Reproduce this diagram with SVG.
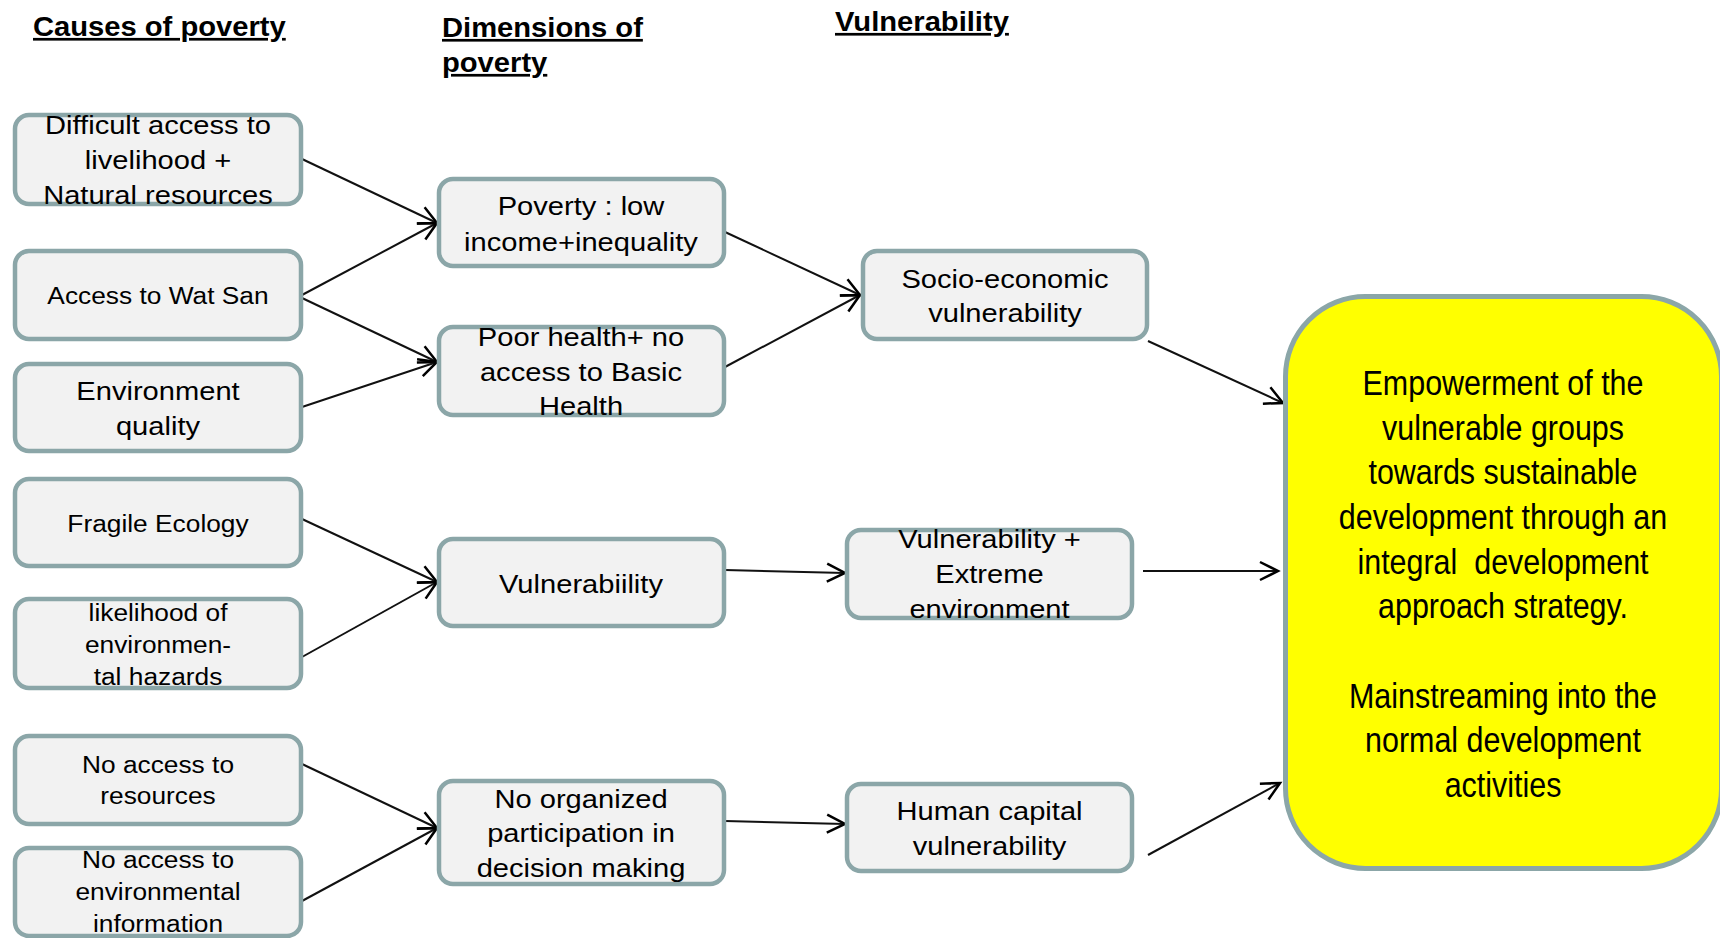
<svg xmlns="http://www.w3.org/2000/svg" width="1720" height="938" viewBox="0 0 1720 938">
  <style>
    .box { fill: #F2F2F2; stroke: #8BA6A8; stroke-width: 4.5; }
    .goal { fill: #FFFF00; stroke: #8BA6A8; stroke-width: 5; }
    .t { font-family: "Liberation Sans", Arial, sans-serif; font-size: 26px; fill: #000; text-anchor: middle; }
    .s { font-size: 23.5px; }
    .g { font-size: 35px; }
    .h { font-family: "Liberation Sans", Arial, sans-serif; font-size: 27px; font-weight: bold; fill: #000; text-decoration: underline; text-decoration-thickness: 3px; text-underline-offset: 4px; }
    .link { fill: none; stroke: #111; stroke-width: 2; marker-end: url(#arrow); }
  </style>
  <defs>
    <marker id="arrow" markerUnits="userSpaceOnUse" viewBox="0 0 24 24" markerWidth="24" markerHeight="24" refX="21" refY="12" orient="auto">
      <path d="M3,3 L21,12 L3,21" fill="none" stroke="#000" stroke-width="2.5"/>
    </marker>
  </defs>

  <rect width="1720" height="938" fill="#FFFFFF"/>

  <!-- column headings -->
  <g id="headings">
    <text class="h" transform="translate(33 0) scale(1.08 1)" x="0" y="36">Causes of poverty</text>
    <text class="h" transform="translate(442 0) scale(1.08 1)" x="0" y="37">Dimensions of</text>
    <text class="h" transform="translate(442 0) scale(1.08 1)" x="0" y="72">poverty</text>
    <text class="h" transform="translate(835 0) scale(1.08 1)" x="0" y="31">Vulnerability</text>
  </g>

  <!-- connectors -->
  <g id="connectors">
    <line class="link" x1="302" y1="159" x2="437" y2="223"/>
    <line class="link" x1="302" y1="295" x2="437" y2="223"/>
    <line class="link" x1="302" y1="298" x2="437" y2="362"/>
    <line class="link" x1="302" y1="407" x2="437" y2="362"/>
    <line class="link" x1="302" y1="519" x2="437" y2="582"/>
    <line class="link" x1="302" y1="657" x2="437" y2="582"/>
    <line class="link" x1="302" y1="764" x2="437" y2="828"/>
    <line class="link" x1="302" y1="901" x2="437" y2="828"/>
    <line class="link" x1="725" y1="232" x2="860" y2="295"/>
    <line class="link" x1="725" y1="367" x2="860" y2="295"/>
    <line class="link" x1="725" y1="570" x2="845" y2="573"/>
    <line class="link" x1="725" y1="821" x2="845" y2="824"/>
    <line class="link" x1="1148" y1="341" x2="1283" y2="403"/>
    <line class="link" x1="1143" y1="571" x2="1278" y2="571"/>
    <line class="link" x1="1148" y1="855" x2="1280" y2="783"/>
  </g>

  <!-- causes of poverty -->
  <g id="cause-livelihood">
    <rect class="box" x="15" y="115" width="286" height="89" rx="14"/>
    <text class="t" transform="translate(158 0) scale(1.12 1)"><tspan x="0" y="134">Difficult access to</tspan><tspan x="0" y="169">livelihood +</tspan><tspan x="0" y="204">Natural resources</tspan></text>
  </g>
  <g id="cause-watsan">
    <rect class="box" x="15" y="251" width="286" height="88" rx="14"/>
    <text class="t s" transform="translate(158 0) scale(1.12 1)" x="0" y="304">Access to Wat San</text>
  </g>
  <g id="cause-environment">
    <rect class="box" x="15" y="364" width="286" height="87" rx="14"/>
    <text class="t" transform="translate(158 0) scale(1.12 1)"><tspan x="0" y="400">Environment</tspan><tspan x="0" y="435">quality</tspan></text>
  </g>
  <g id="cause-ecology">
    <rect class="box" x="15" y="479" width="286" height="87" rx="14"/>
    <text class="t s" transform="translate(158 0) scale(1.12 1)" x="0" y="532">Fragile Ecology</text>
  </g>
  <g id="cause-hazards">
    <rect class="box" x="15" y="599" width="286" height="89" rx="14"/>
    <text class="t s" transform="translate(158 0) scale(1.12 1)"><tspan x="0" y="621">likelihood of</tspan><tspan x="0" y="653">environmen-</tspan><tspan x="0" y="685">tal hazards</tspan></text>
  </g>
  <g id="cause-resources">
    <rect class="box" x="15" y="736" width="286" height="88" rx="14"/>
    <text class="t s" transform="translate(158 0) scale(1.12 1)"><tspan x="0" y="773">No access to</tspan><tspan x="0" y="804">resources</tspan></text>
  </g>
  <g id="cause-information">
    <rect class="box" x="15" y="848" width="286" height="88" rx="14"/>
    <text class="t s" transform="translate(158 0) scale(1.12 1)"><tspan x="0" y="868">No access to</tspan><tspan x="0" y="900">environmental</tspan><tspan x="0" y="932">information</tspan></text>
  </g>

  <!-- dimensions of poverty -->
  <g id="dim-poverty">
    <rect class="box" x="439" y="179" width="285" height="87" rx="14"/>
    <text class="t" transform="translate(581 0) scale(1.12 1)"><tspan x="0" y="215">Poverty : low</tspan><tspan x="0" y="251">income+inequality</tspan></text>
  </g>
  <g id="dim-health">
    <rect class="box" x="439" y="327" width="285" height="88" rx="14"/>
    <text class="t" transform="translate(581 0) scale(1.12 1)"><tspan x="0" y="346">Poor health+ no</tspan><tspan x="0" y="381">access to Basic</tspan><tspan x="0" y="415">Health</tspan></text>
  </g>
  <g id="dim-vulnerability">
    <rect class="box" x="439" y="539" width="285" height="87" rx="14"/>
    <text class="t" transform="translate(581 0) scale(1.12 1)" x="0" y="593">Vulnerabiility</text>
  </g>
  <g id="dim-participation">
    <rect class="box" x="439" y="781" width="285" height="103" rx="14"/>
    <text class="t" transform="translate(581 0) scale(1.12 1)"><tspan x="0" y="808">No organized</tspan><tspan x="0" y="842">participation in</tspan><tspan x="0" y="877">decision making</tspan></text>
  </g>

  <!-- vulnerability -->
  <g id="vul-socio">
    <rect class="box" x="863" y="251" width="284" height="88" rx="14"/>
    <text class="t" transform="translate(1005 0) scale(1.12 1)"><tspan x="0" y="288">Socio-economic</tspan><tspan x="0" y="322">vulnerability</tspan></text>
  </g>
  <g id="vul-extreme">
    <rect class="box" x="847" y="530" width="285" height="88" rx="14"/>
    <text class="t" transform="translate(989.5 0) scale(1.12 1)"><tspan x="0" y="548">Vulnerability +</tspan><tspan x="0" y="583">Extreme</tspan><tspan x="0" y="618">environment</tspan></text>
  </g>
  <g id="vul-human">
    <rect class="box" x="847" y="784" width="285" height="87" rx="14"/>
    <text class="t" transform="translate(989.5 0) scale(1.12 1)"><tspan x="0" y="820">Human capital</tspan><tspan x="0" y="855">vulnerability</tspan></text>
  </g>

  <!-- outcome -->
  <g id="empowerment">
    <rect class="goal" x="1285.5" y="296.5" width="436" height="572" rx="80"/>
    <text class="t g" transform="translate(1503 0) scale(0.87 1)"><tspan x="0" y="395">Empowerment of the</tspan><tspan x="0" y="440">vulnerable groups</tspan><tspan x="0" y="484.5">towards sustainable</tspan><tspan x="0" y="529">development through an</tspan><tspan x="0" y="574" style="white-space:pre">integral  development</tspan><tspan x="0" y="618.5">approach strategy.</tspan><tspan x="0" y="708">Mainstreaming into the</tspan><tspan x="0" y="752.5">normal development</tspan><tspan x="0" y="797">activities</tspan></text>
  </g>
</svg>
